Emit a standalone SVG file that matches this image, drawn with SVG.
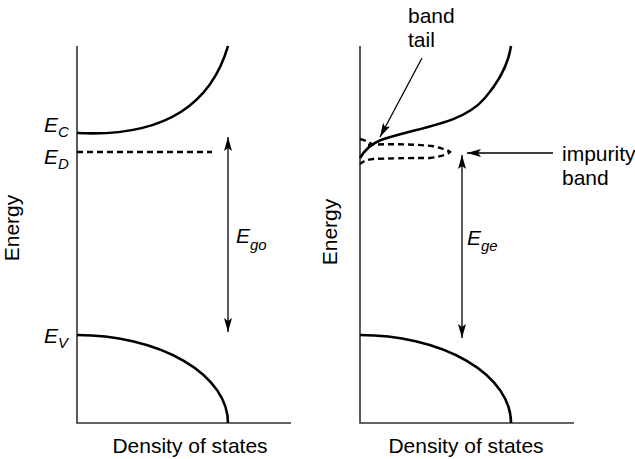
<svg xmlns="http://www.w3.org/2000/svg" width="635" height="459" viewBox="0 0 635 459">
<defs>
<marker id="ah" viewBox="0 0 14 8" refX="14" refY="4" markerWidth="14" markerHeight="8" markerUnits="userSpaceOnUse" orient="auto-start-reverse">
<path d="M0,0 L14,4 L0,8 L3,4 Z" fill="#000"/>
</marker>
<style>
text{font-family:"Liberation Sans",Arial,sans-serif;fill:#000}
.lbl{font-size:21px}
.e{font-size:21px;font-style:italic}
.sub{font-size:15px;font-style:italic}
.axis{stroke:#333;stroke-width:1.6;fill:none}
.band{stroke:#000;stroke-width:2.6;fill:none}
.dash{stroke:#000;stroke-width:2.4;fill:none;stroke-dasharray:6 4}
.arr{stroke:#000;stroke-width:1.3;fill:none}
</style>
</defs>
<rect width="635" height="459" fill="#fff"/>

<g id="left-panel">
<path class="axis" d="M77,46 V423 H291"/>
<path class="band" d="M77,133 C135,136 205,125 228,46"/>
<path class="dash" d="M77,152 H212"/>
<path class="band" d="M77,335 A151,88 0 0 1 228,423"/>
<text class="lbl" transform="translate(19,228) rotate(-90)" text-anchor="middle">Energy</text>
<text class="lbl" x="190" y="453" text-anchor="middle">Density of states</text>
<text x="44" y="132"><tspan class="e">E</tspan><tspan class="sub" dy="5">C</tspan></text>
<text x="44" y="164"><tspan class="e">E</tspan><tspan class="sub" dy="5">D</tspan></text>
<text x="44" y="343"><tspan class="e">E</tspan><tspan class="sub" dy="5">V</tspan></text>
<text x="236" y="243"><tspan class="e">E</tspan><tspan class="sub" dy="7">go</tspan></text>
</g>

<g id="right-panel">
<path class="axis" d="M360,46 V423 H574"/>
<path class="band" d="M360,158 C365,149 371,144 381,140 C420,127 462,124 484,99 C498,83 508,66 511,46"/>
<path class="dash" d="M360,139 Q368,141 373,145"/>
<path class="dash" d="M368,145 Q400,143 432,146 Q446,149 450,152 Q446,156 430,158 Q395,158 373,159 Q364,160 360,164"/>
<path class="band" d="M360,335 A151,88 0 0 1 511,423"/>
<text class="lbl" transform="translate(337,232) rotate(-90)" text-anchor="middle">Energy</text>
<text class="lbl" x="466" y="453" text-anchor="middle">Density of states</text>
<text x="467" y="245"><tspan class="e">E</tspan><tspan class="sub" dy="6">ge</tspan></text>
<text class="lbl" x="408" y="23">band</text>
<text class="lbl" x="408" y="47">tail</text>
<text class="lbl" x="562" y="161">impurity</text>
<text class="lbl" x="562" y="185">band</text>
</g>

<g id="connectors">
<path class="arr" d="M228,137 V332" marker-start="url(#ah)" marker-end="url(#ah)"/>
<path class="arr" d="M462,155 V338" marker-start="url(#ah)" marker-end="url(#ah)"/>
<path class="arr" d="M422,58 L380,137" marker-end="url(#ah)"/>
<path class="arr" d="M553,153 H467" marker-end="url(#ah)"/>
</g>
</svg>
